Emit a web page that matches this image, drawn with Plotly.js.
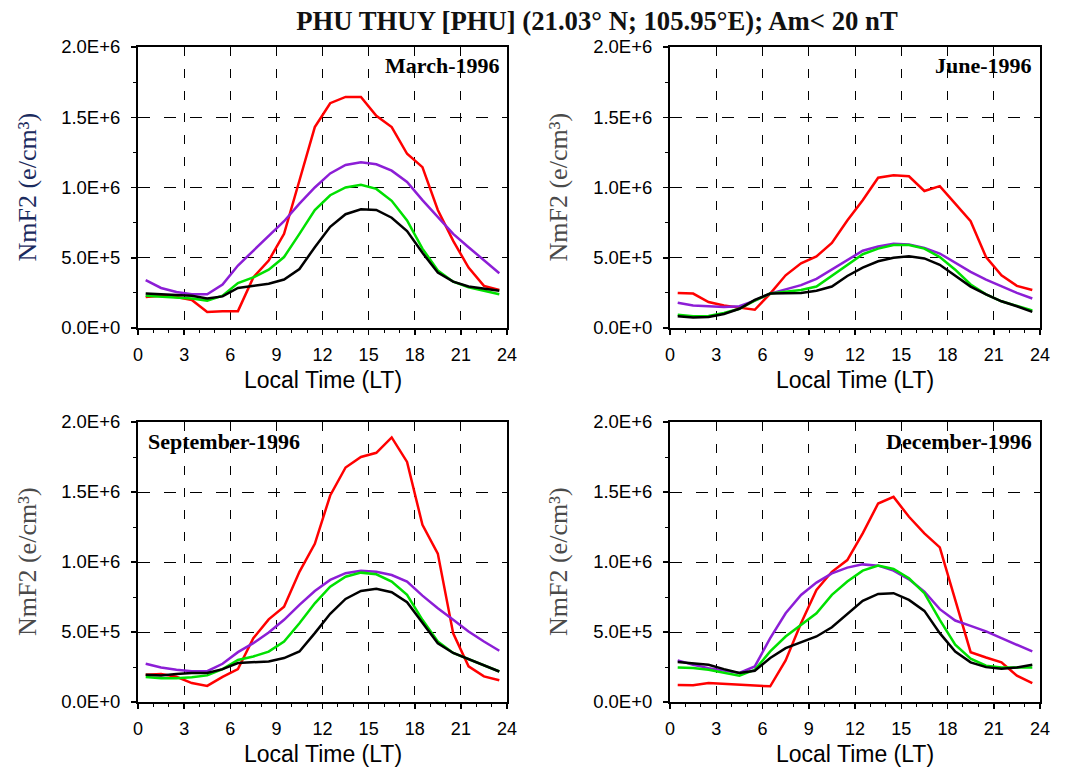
<!DOCTYPE html>
<html>
<head>
<meta charset="utf-8">
<script src="https://cdn.plot.ly/plotly-3.0.1.min.js"></script>
<style>
html,body{margin:0;padding:0;background:#fff;}
#chart{width:1067px;height:767px;}
</style>
</head>
<body>
<div id="chart"></div>
<script>
// ---- Data ----
const hours = [0.5,1.5,2.5,3.5,4.5,5.5,6.5,7.5,8.5,9.5,10.5,11.5,12.5,13.5,14.5,15.5,16.5,17.5,18.5,19.5,20.5,21.5,22.5,23.5];

const panelLabels = ["March-1996", "June-1996", "September-1996", "December-1996"];
const xTickVals = [0,3,6,9,12,15,18,21,24];
const xTickText = ["0","3","6","9","12","15","18","21","24"];
const yTickVals = [0, 500000, 1000000, 1500000, 2000000];
const yTickText = ["0.0E+0","5.0E+5","1.0E+6","1.5E+6","2.0E+6"];

// March-1996
const marRed    = [0.22,0.23,0.22,0.20,0.114,0.12,0.12,0.36,0.48,0.67,1.05,1.43,1.60,1.645,1.645,1.51,1.43,1.24,1.145,0.84,0.62,0.43,0.30,0.27];
const marPurple = [0.34,0.285,0.256,0.24,0.24,0.31,0.445,0.55,0.65,0.76,0.885,1.0,1.10,1.16,1.18,1.165,1.12,1.04,0.91,0.79,0.67,0.575,0.48,0.39];
const marGreen  = [0.23,0.225,0.22,0.21,0.195,0.23,0.32,0.36,0.415,0.505,0.67,0.84,0.945,1.0,1.02,0.99,0.905,0.765,0.565,0.41,0.33,0.29,0.265,0.24];
const marBlack  = [0.245,0.24,0.24,0.23,0.21,0.225,0.285,0.30,0.315,0.345,0.42,0.575,0.72,0.81,0.845,0.84,0.785,0.69,0.535,0.395,0.33,0.295,0.28,0.265];

// June-1996
const junRed    = [0.25,0.245,0.185,0.16,0.145,0.13,0.245,0.375,0.46,0.51,0.605,0.765,0.91,1.07,1.087,1.08,0.975,1.01,0.885,0.76,0.505,0.375,0.30,0.27];
const junPurple = [0.18,0.16,0.155,0.15,0.155,0.195,0.245,0.275,0.305,0.35,0.415,0.485,0.55,0.58,0.60,0.595,0.57,0.53,0.465,0.40,0.345,0.295,0.25,0.21];
const junGreen  = [0.095,0.083,0.085,0.107,0.137,0.195,0.245,0.255,0.27,0.295,0.37,0.45,0.525,0.565,0.59,0.59,0.565,0.505,0.415,0.31,0.24,0.19,0.155,0.125];
const junBlack  = [0.083,0.074,0.078,0.10,0.137,0.20,0.245,0.245,0.25,0.265,0.295,0.37,0.43,0.475,0.50,0.51,0.495,0.45,0.375,0.295,0.24,0.19,0.155,0.115];

// September-1996
const sepRed    = [0.195,0.20,0.18,0.135,0.115,0.18,0.235,0.455,0.59,0.68,0.93,1.13,1.475,1.675,1.75,1.78,1.89,1.715,1.265,1.06,0.49,0.255,0.183,0.155];
const sepPurple = [0.273,0.247,0.23,0.22,0.22,0.273,0.356,0.42,0.497,0.587,0.694,0.793,0.872,0.92,0.938,0.93,0.907,0.86,0.76,0.67,0.587,0.504,0.432,0.366];
const sepGreen  = [0.178,0.169,0.169,0.176,0.19,0.235,0.30,0.325,0.36,0.432,0.563,0.705,0.824,0.895,0.924,0.912,0.86,0.765,0.587,0.432,0.35,0.306,0.266,0.218];
const sepBlack  = [0.195,0.19,0.20,0.207,0.207,0.235,0.278,0.283,0.29,0.314,0.361,0.492,0.63,0.736,0.793,0.808,0.784,0.713,0.563,0.42,0.35,0.306,0.259,0.218];

// December-1996
const decRed    = [0.121,0.119,0.135,0.13,0.126,0.116,0.112,0.297,0.563,0.80,0.93,1.014,1.204,1.418,1.465,1.323,1.204,1.104,0.729,0.356,0.318,0.283,0.188,0.135];
const decPurple = [0.297,0.266,0.242,0.226,0.207,0.254,0.456,0.634,0.765,0.853,0.919,0.96,0.983,0.974,0.938,0.876,0.789,0.663,0.582,0.544,0.504,0.456,0.409,0.361];
const decGreen  = [0.247,0.242,0.23,0.211,0.188,0.23,0.361,0.468,0.551,0.634,0.765,0.86,0.938,0.974,0.95,0.884,0.777,0.587,0.409,0.309,0.259,0.247,0.247,0.247];
const decBlack  = [0.285,0.278,0.266,0.235,0.207,0.223,0.314,0.385,0.425,0.468,0.534,0.63,0.722,0.772,0.777,0.729,0.651,0.492,0.361,0.283,0.249,0.238,0.247,0.266];

const seriesColors = ["#ff0000", "#8c1ed6", "#00e000", "#000000"];
const panels = [
  [marRed, marPurple, marGreen, marBlack],
  [junRed, junPurple, junGreen, junBlack],
  [sepRed, sepPurple, sepGreen, sepBlack],
  [decRed, decPurple, decGreen, decBlack]
];

// ---- Layout helpers ----
const W = 1067, H = 767;
const px = v => v / W;
const py = v => 1 - v / H;
const boxes = [
  {l:138, r:507, t:47,  b:328},
  {l:670, r:1040, t:47, b:328},
  {l:138, r:507, t:422, b:702},
  {l:670, r:1040, t:422, b:702}
];

const traces = [];
panels.forEach((set, p) => {
  const ax = p === 0 ? "" : String(p + 1);
  set.forEach((vals, s) => {
    traces.push({
      x: hours,
      y: vals.map(v => v * 1e6),
      type: "scatter",
      mode: "lines",
      line: {color: seriesColors[s], width: 2.5},
      xaxis: "x" + ax,
      yaxis: "y" + ax,
      showlegend: false,
      hoverinfo: "x+y"
    });
  });
});

const layout = {
  width: W, height: H,
  margin: {l:0, r:0, t:0, b:0},
  paper_bgcolor: "#ffffff",
  plot_bgcolor: "#ffffff",
  showlegend: false,
  title: {
    text: "PHU THUY [PHU] (21.03° N; 105.95°E); Am< 20 nT",
    x: px(597), y: py(21), xanchor: "center", yanchor: "middle",
    xref: "container", yref: "container",
    font: {family: "Liberation Serif, Times New Roman, serif", size: 26.7, weight: 700, color: "#111"}
  },
  annotations: []
};

const yTitleColors = ["#1b2b5e", "#4a4a4a", "#4a4a4a", "#4a4a4a"];

boxes.forEach((b, p) => {
  const ax = p === 0 ? "" : String(p + 1);
  const xa = "xaxis" + ax, ya = "yaxis" + ax;
  layout[xa] = {
    domain: [px(b.l), px(b.r)],
    anchor: "y" + ax,
    range: [0, 24],
    tickmode: "array", tickvals: xTickVals, ticktext: xTickText,
    ticks: "outside", ticklen: 5, tickwidth: 1.5, tickcolor: "#000",
    minor: {dtick: 1, ticks: "outside", ticklen: 3, tickwidth: 1, tickcolor: "#000", showgrid: false},
    showline: true, linecolor: "#000", linewidth: 2, mirror: true,
    showgrid: true, gridcolor: "#000", gridwidth: 1, griddash: "9px,13px",
    zeroline: false,
    ticklabelstandoff: 4,
    tickfont: {family: "Liberation Sans, Arial, sans-serif", size: 18, color: "#000"},
    fixedrange: true
  };
  layout[ya] = {
    domain: [py(b.b), py(b.t)],
    anchor: "x" + ax,
    range: [0, 2000000],
    tickmode: "array", tickvals: yTickVals, ticktext: yTickText,
    ticks: "outside", ticklen: 5, tickwidth: 1.5, tickcolor: "#000",
    minor: {dtick: 250000, ticks: "outside", ticklen: 3, tickwidth: 1, tickcolor: "#000", showgrid: false},
    showline: true, linecolor: "#000", linewidth: 2, mirror: true,
    showgrid: true, gridcolor: "#000", gridwidth: 1, griddash: "12px,14px",
    zeroline: false,
    ticklabelstandoff: 7,
    tickfont: {family: "Liberation Sans, Arial, sans-serif", size: 18.5, color: "#000"},
    fixedrange: true
  };
  // x axis title
  layout.annotations.push({
    text: "Local Time (LT)", showarrow: false,
    xref: "paper", yref: "paper",
    x: px((b.l + b.r) / 2), y: py(b.b + 52), xanchor: "center", yanchor: "middle",
    font: {family: "Liberation Sans, Arial, sans-serif", size: 23, color: "#000"}
  });
  // y axis title
  layout.annotations.push({
    text: "NmF2 (e/cm³)", showarrow: false, textangle: -90,
    xref: "paper", yref: "paper",
    x: px(b.l === 138 ? 27 : 558), y: py((b.t + b.b) / 2), xanchor: "center", yanchor: "middle",
    font: {family: "Liberation Serif, Times New Roman, serif", size: 26, color: yTitleColors[p]}
  });
  // panel label
  const left = p === 2;
  layout.annotations.push({
    text: panelLabels[p], showarrow: false,
    xref: "paper", yref: "paper",
    x: left ? px(146) : px(b.r - 6),
    y: py(b.t + 19),
    xanchor: left ? "left" : "right", yanchor: "middle",
    font: {family: "Liberation Serif, Times New Roman, serif", size: 22, weight: 700, color: "#000"}
  });
});

Plotly.newPlot("chart", traces, layout, {staticPlot: true, displayModeBar: false});
</script>
</body>
</html>
